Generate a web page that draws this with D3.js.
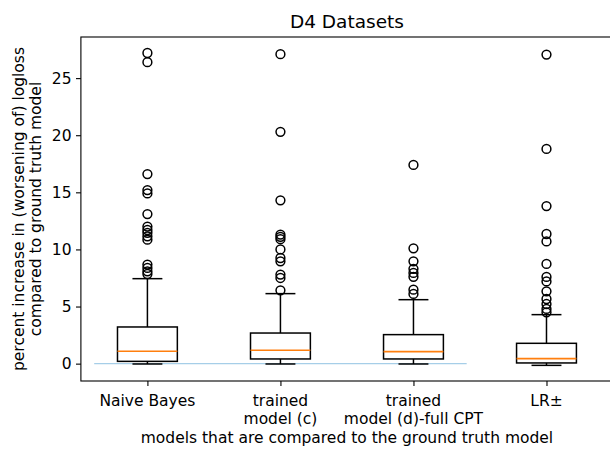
<!DOCTYPE html>
<html>
<head>
<meta charset="utf-8">
<script src="https://cdn.jsdelivr.net/npm/d3@7/dist/d3.min.js"></script>
<style>
  html, body { margin: 0; padding: 0; background: #fff; }
  svg { display: block; font-family: "DejaVu Sans", sans-serif; }
</style>
</head>
<body>
<svg id="chart" width="610" height="450"></svg>
<script>
// ---- data ----
const categories = [["Naive Bayes"], ["trained", "model (c)"], ["trained", "model (d)-full CPT"], ["LR\u00b1"]];
const q1 = [0.2, 0.41, 0.41, 0.06];
const medians = [1.08, 1.17, 1.05, 0.44];
const q3 = [3.21, 2.68, 2.54, 1.78];
const whiskerLow = [-0.03, -0.03, -0.03, -0.15];
const whiskerHigh = [7.44, 6.13, 5.6, 4.29];
const outliers = [
  [27.2, 26.4, 16.6, 15.2, 14.9, 13.1, 12.0, 11.7, 11.45, 11.15, 10.85, 8.67, 8.38, 8.08, 7.85],
  [27.1, 20.3, 14.3, 11.3, 11.1, 10.9, 10.0, 9.25, 8.96, 7.8, 7.5, 6.42],
  [17.4, 10.1, 8.96, 8.3, 7.94, 7.6, 6.48, 6.1],
  [27.06, 18.8, 13.8, 11.35, 10.7, 8.73, 7.59, 7.2, 6.33, 5.66, 5.22, 4.79, 4.49]
];
const yTicks = [0, 5, 10, 15, 20, 25];
const refLine = { y: 0, x0: 0.6, x1: 3.4 };
const titleText = "D4 Datasets";
const xLabelText = "models that are compared to the ground truth model";
const yLabelLines = ["percent increase in (worsening of) logloss", "compared to ground truth model"];

// ---- layout ----
const svg = d3.select("#chart");
const plotL = 80.9, plotR = 613, plotT = 37, plotB = 381;
const fs = 15.5;
const x = d3.scaleLinear().domain([0.5, 4.5]).range([plotL, plotR]);
const y = d3.scaleLinear().domain([-1.52, 28.6]).range([plotB, plotT]);
const boxW = x(1.45) - x(1);
const capW = boxW / 2;

const g = svg.append("g");

// reference line
g.append("line")
  .attr("x1", x(refLine.x0)).attr("x2", x(refLine.x1))
  .attr("y1", y(refLine.y)).attr("y2", y(refLine.y))
  .attr("stroke", "#a6cee8").attr("stroke-width", 1.2);

categories.forEach((c, i) => {
  const cx = x(i + 1);
  const bg = g.append("g");
  bg.append("line").attr("x1", cx).attr("x2", cx).attr("y1", y(q1[i])).attr("y2", y(whiskerLow[i]))
    .attr("stroke", "#000").attr("stroke-width", 1.5);
  bg.append("line").attr("x1", cx).attr("x2", cx).attr("y1", y(q3[i])).attr("y2", y(whiskerHigh[i]))
    .attr("stroke", "#000").attr("stroke-width", 1.5);
  [whiskerLow[i], whiskerHigh[i]].forEach(v => {
    bg.append("line").attr("x1", cx - capW / 2).attr("x2", cx + capW / 2)
      .attr("y1", y(v)).attr("y2", y(v)).attr("stroke", "#000").attr("stroke-width", 1.5);
  });
  bg.append("rect").attr("x", cx - boxW / 2).attr("width", boxW)
    .attr("y", y(q3[i])).attr("height", y(q1[i]) - y(q3[i]))
    .attr("fill", "none").attr("stroke", "#000").attr("stroke-width", 1.5);
  bg.append("line").attr("x1", cx - boxW / 2).attr("x2", cx + boxW / 2)
    .attr("y1", y(medians[i])).attr("y2", y(medians[i]))
    .attr("stroke", "#ff7f0e").attr("stroke-width", 1.6);
  bg.selectAll("circle.o").data(outliers[i]).enter().append("circle")
    .attr("class", "o").attr("cx", cx).attr("cy", d => y(d)).attr("r", 4.4)
    .attr("fill", "none").attr("stroke", "#000").attr("stroke-width", 1.5);
});

// axes
const yAxis = d3.axisLeft(y).tickValues(yTicks).tickSize(4.9).tickPadding(4.5);
const yg = svg.append("g").attr("transform", `translate(${plotL},0)`).call(yAxis);
const xAxis = d3.axisBottom(x).tickValues([1, 2, 3, 4]).tickSize(4.9).tickFormat(() => "");
const xg = svg.append("g").attr("transform", `translate(0,${plotB})`).call(xAxis);
[yg, xg].forEach(a => {
  a.select(".domain").remove();
  a.selectAll(".tick line").attr("stroke", "#000").attr("stroke-width", 1.1);
  a.selectAll("text").attr("font-family", "DejaVu Sans").attr("font-size", fs).attr("fill", "#000");
});

// x tick labels (multi-line)
categories.forEach((lines, i) => {
  const t = svg.append("text").attr("x", x(i + 1)).attr("y", 406)
    .attr("text-anchor", "middle").attr("font-size", fs).attr("fill", "#000");
  lines.forEach((s, k) => {
    t.append("tspan").attr("x", x(i + 1)).attr("dy", k === 0 ? 0 : 17.5).text(s);
  });
});

// frame
svg.append("rect").attr("x", plotL).attr("y", plotT).attr("width", plotR - plotL).attr("height", plotB - plotT)
  .attr("fill", "none").attr("stroke", "#000").attr("stroke-width", 1.1);

// title
svg.append("text").attr("x", (plotL + plotR) / 2).attr("y", 28).attr("text-anchor", "middle")
  .attr("font-size", 18.5).attr("fill", "#000").text(titleText);

// x label
svg.append("text").attr("x", (plotL + plotR) / 2).attr("y", 443).attr("text-anchor", "middle")
  .attr("font-size", fs).attr("fill", "#000").text(xLabelText);

// y label
const cyMid = (plotT + plotB) / 2;
yLabelLines.forEach((s, k) => {
  svg.append("text").attr("transform", `translate(${k === 0 ? 23.5 : 40.5},${cyMid}) rotate(-90)`)
    .attr("text-anchor", "middle").attr("font-size", fs).attr("fill", "#000").text(s);
});
</script>
</body>
</html>
